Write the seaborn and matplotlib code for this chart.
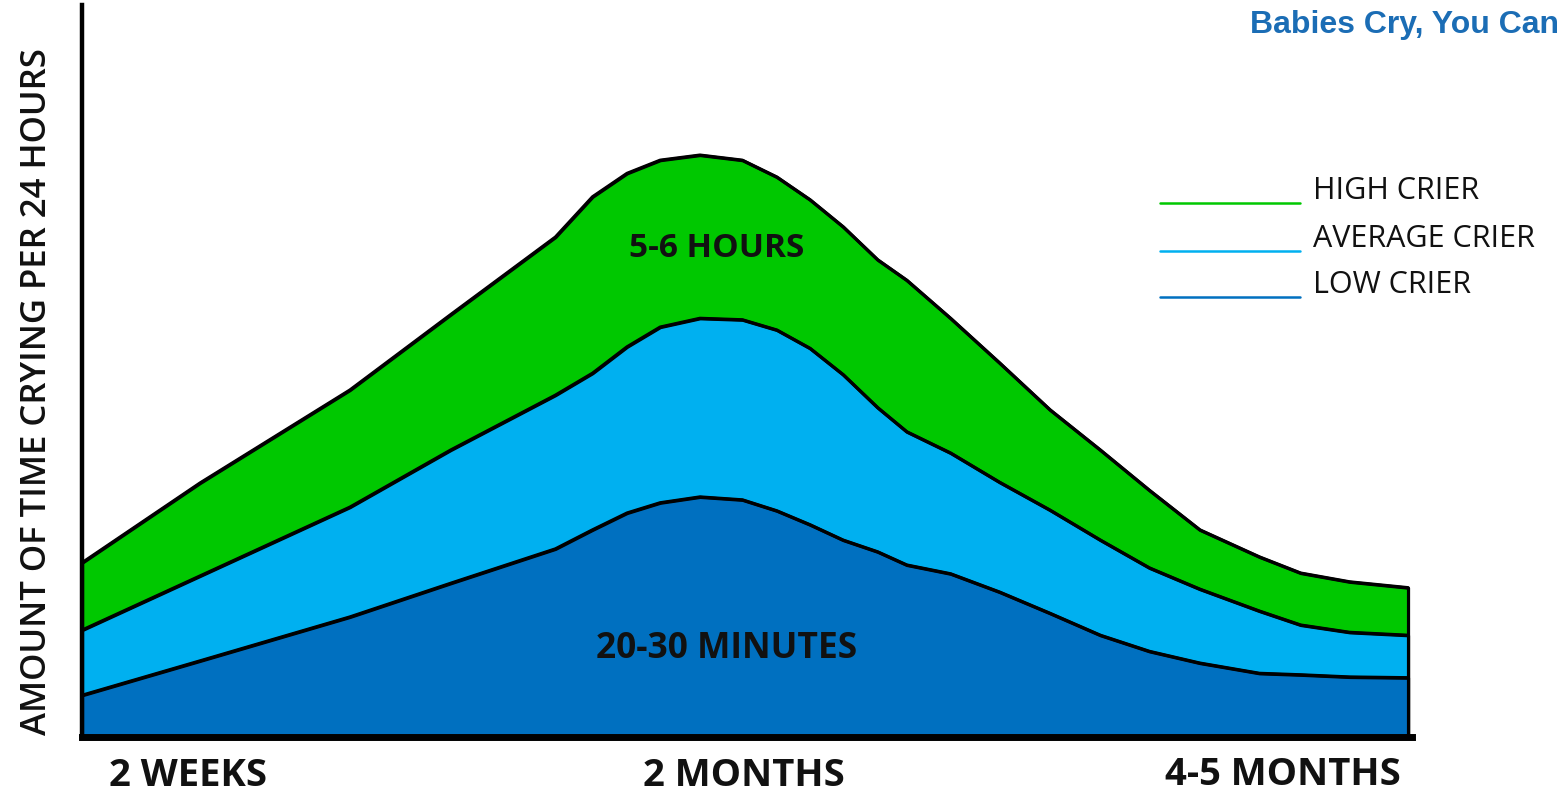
import numpy as np
import pandas as pd
import matplotlib
matplotlib.use("Agg")
import matplotlib.pyplot as plt
import seaborn as sns

# ---- data (arbitrary units 0-100) ----
time_pos = [0, 8.9, 20.2, 27.8, 35.7, 38.5, 41.1, 43.6, 46.6, 49.8, 52.4, 54.9,
            57.4, 60.0, 62.2, 65.5, 69.2, 73.0, 76.8, 80.5, 84.3, 88.8, 91.9, 95.6, 100]
high_crier = [23.8, 34.7, 47.4, 57.7, 68.3, 73.8, 77.0, 78.8, 79.5, 78.8, 76.5, 73.4,
              69.7, 65.2, 62.4, 57.2, 51.1, 44.7, 39.2, 33.7, 28.3, 24.6, 22.4, 21.2, 20.4]
average_crier = [14.6, 22.0, 31.4, 39.2, 46.7, 49.7, 53.3, 56.0, 57.2, 57.0, 55.6, 53.1,
                 49.5, 45.0, 41.7, 38.8, 34.8, 31.0, 26.9, 23.1, 20.2, 17.2, 15.3, 14.3, 13.9]
low_crier = [5.7, 10.4, 16.4, 21.0, 25.7, 28.3, 30.6, 32.0, 32.8, 32.4, 30.9, 29.0,
             26.9, 25.3, 23.5, 22.3, 19.8, 16.9, 13.9, 11.7, 10.1, 8.7, 8.5, 8.2, 8.1]

series_names = ["HIGH CRIER", "AVERAGE CRIER", "LOW CRIER"]
series_colors = ["#00c800", "#00b0f0", "#0070c0"]
tick_labels = ["2 WEEKS", "2 MONTHS", "4-5 MONTHS"]
band_labels = ["5-6 HOURS", "20-30 MINUTES"]

df = pd.DataFrame({"time": time_pos * 3,
                   "value": high_crier + average_crier + low_crier,
                   "series": np.repeat(series_names, len(time_pos))})

sns.set_theme(style="white")
plt.rcParams["font.family"] = ["Open Sans", "DejaVu Sans"]

W, H = 1562, 796
fig = plt.figure(figsize=(W / 100, H / 100), dpi=100)
ax = fig.add_axes([82 / W, 59 / H, 1330 / W, 732 / H])


def fx(px):
    return px / W


def fy(py):
    return 1 - py / H


for name, col in zip(series_names, series_colors):
    sub = df[df["series"] == name]
    ax.fill_between(sub["time"], 0, sub["value"], facecolor=col,
                    edgecolor="black", linewidth=2.3, zorder=2, joinstyle="round")
    sns.lineplot(data=sub, x="time", y="value", ax=ax, color="black",
                 linewidth=2.3, zorder=3, legend=False, sort=True,
                 solid_joinstyle="round")

ax.set_xlim(0, 100.3)
ax.set_ylim(0, 100)
ax.set_xticks([])
ax.set_yticks([])
ax.set_xlabel("")
ax.set_ylabel("")
for s in ["top", "right"]:
    ax.spines[s].set_visible(False)
ax.spines["left"].set_linewidth(3.2)
ax.spines["bottom"].set_linewidth(5)
for s in ["left", "bottom"]:
    ax.spines[s].set_color("black")
    ax.spines[s].set_zorder(5)

# x category labels (bottom of text box in pixels, kept inside the canvas)
xlab_pos = [(188, 795), (744, 795), (1283, 794)]
for lab, (px, py) in zip(tick_labels, xlab_pos):
    fig.text(fx(px), fy(py), lab, ha="center", va="bottom", fontsize=27.5,
             fontweight="bold", color="#111111")

# band labels
fig.text(fx(717), fy(257), band_labels[0], ha="center", va="baseline", fontsize=24,
         fontweight="bold", color="#111111")
fig.text(fx(727), fy(658), band_labels[1], ha="center", va="baseline", fontsize=25.5,
         fontweight="bold", color="#111111")

# y label
fig.text(fx(37), fy(392), "AMOUNT OF TIME CRYING PER 24 HOURS",
         rotation=90, ha="center", va="center", fontsize=25, fontweight="semibold",
         color="#111111")

# legend (coloured lines + labels)
leg_y = [203, 251, 297]
txt_base = [199, 247, 293]
for name, col, ly, ty in zip(series_names, series_colors, leg_y, txt_base):
    fig.add_artist(plt.Line2D([fx(1160), fx(1300)], [fy(ly), fy(ly)],
                              color=col, linewidth=1.8, transform=fig.transFigure))
    fig.text(fx(1313), fy(ty), name, ha="left", va="baseline",
             fontsize=22, color="#111111")

# title fragment
fig.text(fx(1559), fy(33), "Babies Cry, You Can", ha="right", va="baseline",
         fontsize=23, fontweight="bold", color="#1b6db5",
         family=["Liberation Sans", "DejaVu Sans"])

fig.savefig("out.png", dpi=100, facecolor="white")
